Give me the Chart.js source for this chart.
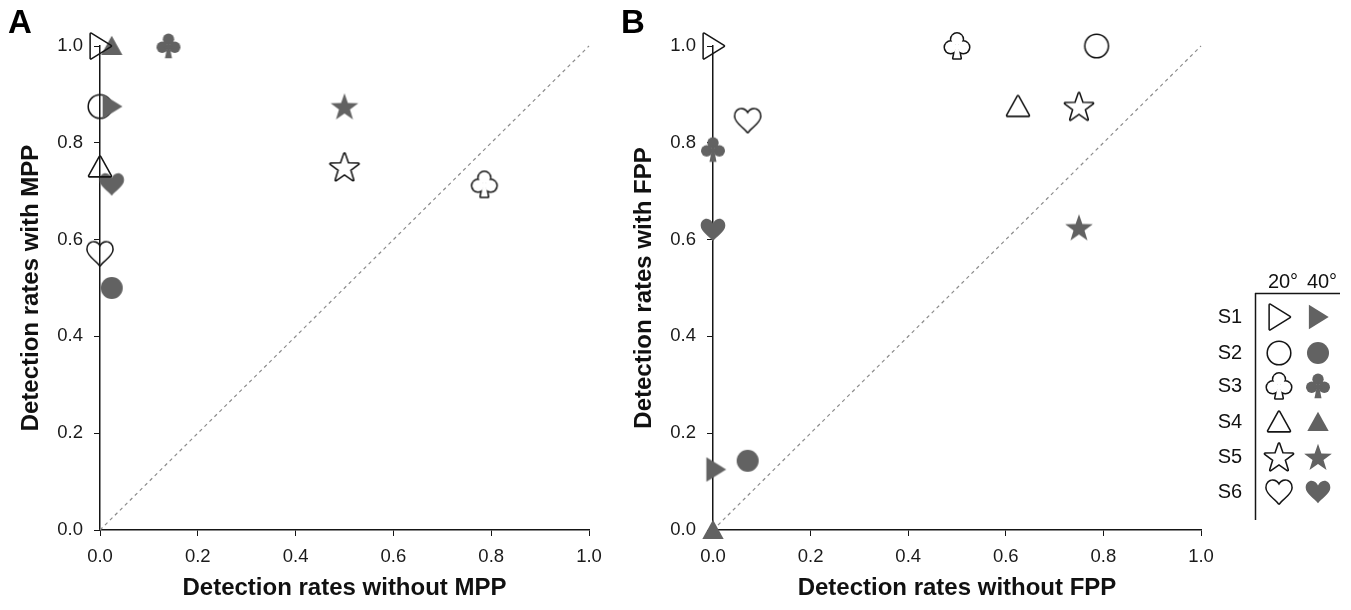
<!DOCTYPE html>
<html><head><meta charset="utf-8">
<script src="https://cdn.jsdelivr.net/npm/chart.js@4.4.0/dist/chart.umd.min.js"></script>
<style>
html,body{margin:0;padding:0;background:#fff;width:1351px;height:610px;overflow:hidden;}
#ca{position:absolute;left:0;top:0;}
#cb{position:absolute;left:613px;top:0;}
</style></head><body>
<canvas id="ca" width="613" height="610"></canvas>
<canvas id="cb" width="738" height="610"></canvas>
<script>
const subjects = ['S1','S2','S3','S4','S5','S6'];
const shapes = ['triRight','circle','club','triUp','star','heart'];
const angles = ['20°','40°'];
const tickStep = 0.2;
// Panel A: Detection rates without / with MPP
const mpp20x = [0, 0, 0.786, 0, 0.5, 0];
const mpp20y = [1.0, 0.875, 0.714, 0.75, 0.75, 0.571];
const mpp40x = [0.024, 0.024, 0.14, 0.024, 0.5, 0.024];
const mpp40y = [0.875, 0.5, 1.0, 1.0, 0.875, 0.714];
// Panel B: Detection rates without / with FPP
const fpp20x = [0, 0.786, 0.5, 0.625, 0.75, 0.071];
const fpp20y = [1.0, 1.0, 1.0, 0.875, 0.875, 0.846];
const fpp40x = [0.005, 0.071, 0, 0, 0.75, 0];
const fpp40y = [0.125, 0.143, 0.786, 0, 0.625, 0.62];

const FONT = "'Liberation Sans', Arial, Helvetica, sans-serif";
const FILL = '#626262';
const INK = '#151515';
const K = 1.07;

function subpaths(shape){
  switch(shape){
    case 'triRight': return [c=>{c.moveTo(-8.5,-11.5);c.lineTo(10,0);c.lineTo(-8.5,11.5);c.closePath();}];
    case 'circle': return [c=>{c.arc(0,0,10.3,0,Math.PI*2);}];
    case 'triUp': return [c=>{c.moveTo(0,-9.5);c.lineTo(10,8.5);c.lineTo(-10,8.5);c.closePath();}];
    case 'star': return [c=>{for(let i=0;i<10;i++){const r=i%2?5.4:13.6;const a=-Math.PI/2+i*Math.PI/5;const x=r*Math.cos(a),y=r*Math.sin(a)+1.2;if(i)c.lineTo(x,y);else c.moveTo(x,y);}c.closePath();}];
    case 'heart': return [c=>{
      c.moveTo(0,10.5);
      c.bezierCurveTo(-3,6.5,-11.5,1.5,-11.5,-4);
      c.bezierCurveTo(-11.5,-8.5,-8.5,-10.5,-6,-10.5);
      c.bezierCurveTo(-3,-10.5,-1,-8.5,0,-6);
      c.bezierCurveTo(1,-8.5,3,-10.5,6,-10.5);
      c.bezierCurveTo(8.5,-10.5,11.5,-8.5,11.5,-4);
      c.bezierCurveTo(11.5,1.5,3,6.5,0,10.5);
      c.closePath();}];
    case 'club': return [
      c=>c.arc(0,-6.3,5.3,0,2*Math.PI),
      c=>c.arc(-5.9,1.2,5.3,0,2*Math.PI),
      c=>c.arc(5.9,1.2,5.3,0,2*Math.PI),
      c=>{c.moveTo(0,-3);c.lineTo(4.5,2.5);c.lineTo(-4.5,2.5);c.closePath();},
      c=>{c.moveTo(-1.2,1);c.lineTo(1.2,1);c.lineTo(3.3,11.5);c.lineTo(-3.3,11.5);c.closePath();}];
  }
}
function makeMarker(shape, filled){
  const s=38, cv=document.createElement('canvas'); cv.width=s; cv.height=s;
  const c=cv.getContext('2d'); c.translate(s/2,s/2); c.scale(K,K);
  const sp=subpaths(shape);
  if(filled){ c.fillStyle=FILL; sp.forEach(f=>{c.beginPath();f(c);c.fill();}); }
  else {
    c.strokeStyle=INK; c.lineWidth=2.9; c.lineJoin='round';
    sp.forEach(f=>{c.beginPath();f(c);c.stroke();});
    c.globalCompositeOperation='destination-out'; c.fillStyle='#000';
    sp.forEach(f=>{c.beginPath();f(c);c.fill();});
  }
  return cv;
}
const markers20 = shapes.map(s=>makeMarker(s,false));
const markers40 = shapes.map(s=>makeMarker(s,true));

function buildDatasets(x20,y20,x40,y40){
  const ds=[];
  subjects.forEach((s,i)=>{
    ds.push({label:s+' '+angles[0], data:[{x:x20[i],y:y20[i]}], pointStyle:markers20[i], pointRadius:12, clip:false});
    ds.push({label:s+' '+angles[1], data:[{x:x40[i],y:y40[i]}], pointStyle:markers40[i], pointRadius:12, clip:false});
  });
  ds.push({type:'line', label:'y = x', data:[{x:0,y:0},{x:1,y:1}], borderColor:'#8c8c8c', borderWidth:1.2, borderDash:[3.5,3.5], pointRadius:0, fill:false, clip:false});
  return ds;
}
function scaleCfg(title,isX){
  return {
    type:'linear', min:0, max:1,
    afterFit: s=>{ if(isX) s.height=80; else s.width=100; },
    border:{display:true,color:INK,width:1.5},
    grid:{display:true,drawOnChartArea:false,drawTicks:true,tickLength:6,color:INK,lineWidth:1},
    ticks:{stepSize:tickStep,padding:isX?10:11,color:'#1a1a1a',font:{family:FONT,size:18.5},maxRotation:0,autoSkip:false,
      callback:v=>Number(v).toFixed(1)},
    title:{display:true,text:title,color:'#111',font:{family:FONT,size:24,weight:'bold'},
      padding:isX?{top:0,bottom:7}:{top:17,bottom:0}}
  };
}
function letterPlugin(letter){
  return {id:'letter'+letter, afterDraw(chart){
    const c=chart.ctx; c.save(); c.fillStyle='#000'; c.font='bold 33px '+FONT;
    c.textBaseline='alphabetic'; c.textAlign='left'; c.fillText(letter,8,33); c.restore();
  }};
}
const legendPlugin = {id:'symLegend', afterDraw(chart){
  const c=chart.ctx; c.save();
  const xLab=617, x20=666, x40=705, rows=[317,353,386,422,457,492];
  c.fillStyle='#111'; c.font='20px '+FONT; c.textBaseline='middle'; c.textAlign='center';
  c.fillText(angles[0],670,282); c.fillText(angles[1],709,282);
  c.strokeStyle=INK; c.lineWidth=1.5;
  c.beginPath(); c.moveTo(642,293.5); c.lineTo(727,293.5); c.stroke();
  c.beginPath(); c.moveTo(642.5,293); c.lineTo(642.5,520); c.stroke();
  subjects.forEach((s,i)=>{
    c.fillText(s,xLab,rows[i]);
    c.drawImage(markers20[i],x20-19,rows[i]-19);
    c.drawImage(markers40[i],x40-19,rows[i]-19);
  });
  c.restore();
}};
function makeChart(id,datasets,xt,yt,padRight,plugins){
  return new Chart(document.getElementById(id),{
    type:'scatter',
    data:{datasets},
    options:{
      responsive:false, animation:false, events:[],
      layout:{padding:{top:46,right:padRight,bottom:0,left:0}},
      plugins:{legend:{display:false},tooltip:{enabled:false}},
      scales:{x:scaleCfg(xt,true),y:scaleCfg(yt,false)}
    },
    plugins
  });
}
makeChart('ca',buildDatasets(mpp20x,mpp20y,mpp40x,mpp40y),'Detection rates without MPP','Detection rates with MPP',24,[letterPlugin('A')]);
makeChart('cb',buildDatasets(fpp20x,fpp20y,fpp40x,fpp40y),'Detection rates without FPP','Detection rates with FPP',150,[letterPlugin('B'),legendPlugin]);
</script>
</body></html>
